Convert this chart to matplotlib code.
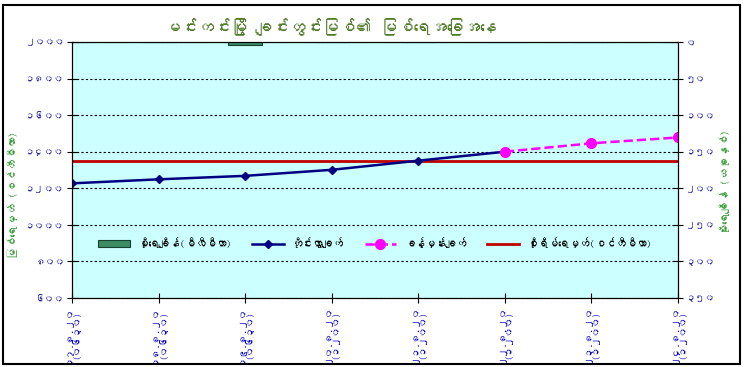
import numpy as np
import matplotlib.pyplot as plt
from matplotlib import font_manager
from matplotlib.patches import Rectangle
from fontTools.ttLib import TTFont

# look for any installed family that has Myanmar glyphs
mm_family = None
for f in font_manager.fontManager.ttflist:
    try:
        tt = TTFont(f.fname, fontNumber=0, lazy=True)
        if 0x1000 in tt.getBestCmap():
            mm_family = f.name
            break
    except Exception:
        pass

families = ['Noto Sans', 'DejaVu Sans']
if mm_family:
    families = [mm_family] + families
plt.rcParams['font.family'] = families

# data
dates = ['၁၇.၈.၂၀\n(၀၆၃၀)', '၁၈.၈.၂၀\n(၀၆၃၀)', '၁၉.၈.၂၀\n(၀၆၃၀)', '၂၀.၈.၂၀\n(၁၂၀၀)',
         '၂၁.၈.၂၀\n(၁၂၀၀)', '၂၂.၈.၂၀\n(၁၂၀၀)', '၂၃.၈.၂၀\n(၁၂၀၀)', '၂၄.၈.၂၀\n(၁၂၀၀)']
observed = [1227, 1249, 1268, 1301, 1351, 1400]
forecast = [1400, 1446, 1478]
rainfall = [0, 0, 4, 0, 0, 0, 0, 0]
danger = 1350

left_ticks = [600, 800, 1000, 1200, 1400, 1600, 1800, 2000]
left_labels = ['၆၀၀', '၈၀၀', '၁၀၀၀', '၁၂၀၀', '၁၄၀၀', '၁၆၀၀', '၁၈၀၀', '၂၀၀၀']
right_ticks = [0, 50, 100, 150, 200, 250, 300, 350]
right_labels = ['၀', '၅၀', '၁၀၀', '၁၅၀', '၂၀၀', '၂၅၀', '၃၀၀', '၃၅၀']

title = 'မင်းကင်းမြို့ ချင်းတွင်းမြစ်၏ မြစ်ရေအခြေအနေ'
ylab_left = 'မြစ်ရေမှတ် (စင်တီမီတာ)'
ylab_right = 'မိုးရေချိန် (ယခုနှစ်)'
leg_labels = ['မိုးရေချိန်(မီလီမီတာ)', 'တိုင်းထွာချက်', 'ခန့်မှန်းချက်', 'စိုးရိမ်ရေမှတ်(စင်တီမီတာ)']

x = np.arange(len(dates))
tick_col = '#2a2aa8'
lab_col = '#2e9a2e'

fig = plt.figure(figsize=(7.45, 3.67), dpi=100)
ax = fig.add_axes([72/745, 1-298/367, 606/745, 256/367])
ax.set_facecolor('#ccffff')
ax2 = ax.twinx()
ax2.patch.set_visible(False)

# grid + danger line
ax.set_ylim(600, 2000)
ax.set_yticks(left_ticks)
ax.set_yticklabels(left_labels, color=tick_col, fontsize=7)
ax.grid(axis='y', color='black', linestyle=(0, (2, 2)), linewidth=0.8)
ax.set_axisbelow(True)
l_red = ax.axhline(danger, color='#c00000', linewidth=2)

l_obs, = ax.plot(x[:6], observed, color='#000080', linewidth=1.8, marker='D', markersize=4.5)
l_fc, = ax.plot(x[5:], forecast, color='#ff00ff', linewidth=1.8, linestyle='--',
                marker='o', markersize=7)

ax.set_xlim(0, 7)
ax.set_xticks(x)
ax.set_xticklabels(dates, rotation=90, color='#0000cc', fontsize=7, linespacing=0.9)
ax.tick_params(axis='both', direction='inout', length=7, pad=2)

# rainfall on inverted right axis
b = ax2.bar(x, rainfall, width=0.4, color='#3c8c64', edgecolor='#1a4030', linewidth=0.8)
ax2.set_ylim(350, 0)
ax2.set_yticks(right_ticks)
ax2.set_yticklabels(right_labels, color=tick_col, fontsize=7)
ax2.tick_params(axis='y', direction='inout', length=7, pad=2)

for a in (ax, ax2):
    for s in a.spines.values():
        s.set_color('black')

ax2.legend([b, l_obs, l_fc, l_red], leg_labels, ncol=4, loc='center',
           bbox_to_anchor=(0.5, 0.215), frameon=False, fontsize=7.5,
           handlelength=3, columnspacing=2.0)

fig.text(330/745, 1-27/367, title, ha='center', va='center', fontsize=12,
         color='#4f7a28', fontweight='bold')
fig.text(13/745, 1-195/367, ylab_left, rotation=90, ha='center', va='center',
         fontsize=8, color=lab_col)
fig.text(725/745, 1-182/367, ylab_right, rotation=90, ha='center', va='center',
         fontsize=8, color=lab_col)

fig.patches.append(Rectangle((3/745, 3/367), 737/745, 359/367, transform=fig.transFigure,
                             fill=False, edgecolor='black', linewidth=1.5))

fig.savefig('out.png', dpi=100)
